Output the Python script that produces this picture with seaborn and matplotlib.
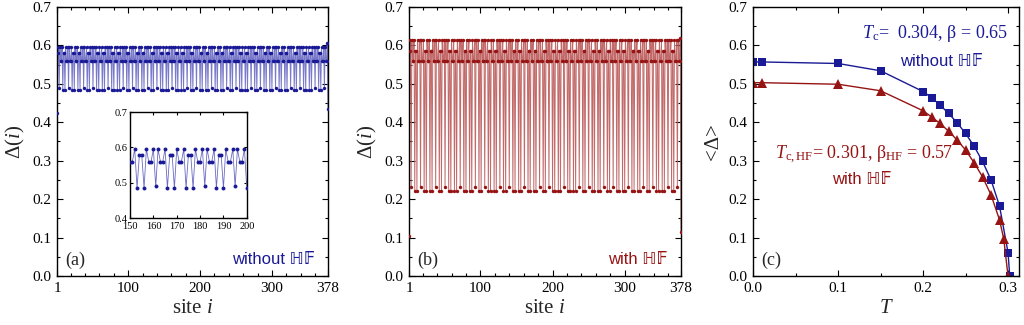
import numpy as np
import pandas as pd
import matplotlib
matplotlib.use("Agg")
import matplotlib.pyplot as plt
import seaborn as sns
from matplotlib.ticker import MultipleLocator, FixedLocator

# ---------------- data ----------------
# block sequence of the quasiperiodic chain (A = 8 sites, B = 5 sites)
block_codes = ("B"
               "ABAABABAABAABABAABABAABAABABAABAAB"
               "ABAABABAABAABABAABABA")

# panel (a): without HF  (levels per block)
a_block_A = [0.595, 0.485, 0.58, 0.58, 0.485, 0.595, 0.56, 0.56]
a_block_B = [0.595, 0.49, 0.595, 0.56, 0.56]
a_head = [0.425, 0.58]
a_tail = [0.605, 0.435]

# panel (b): with HF
b_block_A = [0.615, 0.22, 0.585, 0.585, 0.22, 0.615, 0.56, 0.56]
b_block_B = [0.615, 0.232, 0.615, 0.56, 0.56]
b_head = [0.105, 0.585]
b_tail = [0.62, 0.115]

n_sites = 378

# panel (c): order parameter vs temperature
T_noHF = [0.0, 0.01, 0.10, 0.15, 0.20, 0.21, 0.22, 0.23, 0.24, 0.25, 0.26, 0.27, 0.28, 0.29, 0.30, 0.302]
D_noHF = [0.557, 0.557, 0.553, 0.534, 0.480, 0.464, 0.445, 0.423, 0.399, 0.371, 0.338, 0.298, 0.250, 0.182, 0.061, 0.0]
T_HF = [0.0, 0.01, 0.10, 0.15, 0.20, 0.21, 0.22, 0.23, 0.24, 0.25, 0.26, 0.27, 0.28, 0.29, 0.295, 0.300]
D_HF = [0.503, 0.503, 0.499, 0.482, 0.430, 0.414, 0.397, 0.377, 0.354, 0.328, 0.295, 0.258, 0.211, 0.146, 0.096, 0.0]


def build_chain(head, blk_A, blk_B, tail):
    body = []
    for c in block_codes:
        body.extend(blk_A if c == "A" else blk_B)
    n_body = n_sites - len(head) - len(tail)
    return np.array(head + body[:n_body] + tail)


sites = np.arange(1, n_sites + 1)
df_a = pd.DataFrame({"site": sites, "D": build_chain(a_head, a_block_A, a_block_B, a_tail)})
df_b = pd.DataFrame({"site": sites, "D": build_chain(b_head, b_block_A, b_block_B, b_tail)})
df_c1 = pd.DataFrame({"T": T_noHF, "D": D_noHF})
df_c2 = pd.DataFrame({"T": T_HF, "D": D_HF})

# ---------------- style ----------------
sns.set_theme(style="ticks")
plt.rcParams["font.family"] = ["Liberation Serif", "DejaVu Serif"]
plt.rcParams["mathtext.fontset"] = "custom"
plt.rcParams["mathtext.rm"] = "Liberation Serif"
plt.rcParams["mathtext.it"] = "Liberation Serif:italic"
plt.rcParams["axes.linewidth"] = 1.0
plt.rcParams["axes.edgecolor"] = "black"

BLUE = "#1a1a96"
BLUE_L = "#6a6ac4"
RED = "#961414"
RED_L = "#bc5a5a"
SANS = ["Liberation Sans", "DejaVu Sans"]

fig = plt.figure(figsize=(10.24, 3.25), dpi=100)
ax_a = fig.add_axes([0.0557, 0.1508, 0.2646, 0.8277])
ax_b = fig.add_axes([0.3994, 0.1508, 0.2656, 0.8277])
ax_c = fig.add_axes([0.7354, 0.1508, 0.2598, 0.8277])
ax_in = fig.add_axes([0.127, 0.329, 0.114, 0.326])


def style_axes(ax, fs=11, major=4, minor=2.5):
    ax.tick_params(which="both", direction="in", top=True, right=True,
                   labelsize=fs, colors="black", width=0.8)
    ax.tick_params(which="major", length=major, pad=4)
    ax.tick_params(which="minor", length=minor)
    for s in ax.spines.values():
        s.set_color("black")
        s.set_linewidth(1.0)


# panel (a)
sns.lineplot(data=df_a, x="site", y="D", ax=ax_a, color=BLUE_L, lw=0.7, alpha=0.9, sort=False)
sns.scatterplot(data=df_a, x="site", y="D", ax=ax_a, color=BLUE, s=6, linewidth=0, zorder=3)
# panel (b)
sns.lineplot(data=df_b, x="site", y="D", ax=ax_b, color=RED_L, lw=0.7, alpha=0.9, sort=False)
sns.scatterplot(data=df_b, x="site", y="D", ax=ax_b, color=RED, s=6, linewidth=0, zorder=3)

for ax, lab, txt, col in [(ax_a, "(a)", "without \u210d\U0001d53d", BLUE),
                          (ax_b, "(b)", "with \u210d\U0001d53d", RED)]:
    ax.set_xlim(1, 378)
    ax.set_ylim(0, 0.7)
    ax.xaxis.set_major_locator(FixedLocator([1, 100, 200, 300, 378]))
    ax.xaxis.set_minor_locator(FixedLocator(np.arange(20, 378, 20)))
    ax.yaxis.set_major_locator(MultipleLocator(0.1))
    ax.yaxis.set_minor_locator(MultipleLocator(0.05))
    ax.yaxis.set_major_formatter(matplotlib.ticker.FormatStrFormatter("%.1f"))
    style_axes(ax)
    ax.set_xlabel("site $i$", fontsize=15, labelpad=3)
    ax.set_ylabel("\u0394($i$)", fontsize=15, labelpad=4)
    ax.text(0.03, 0.06, lab, transform=ax.transAxes, fontsize=13, va="center", ha="left")
    ax.text(0.95, 0.06, txt, transform=ax.transAxes, fontsize=12, va="center", ha="right",
            color=col, family=SANS)

# inset
sns.lineplot(data=df_a, x="site", y="D", ax=ax_in, color=BLUE_L, lw=0.6, sort=False)
sns.scatterplot(data=df_a, x="site", y="D", ax=ax_in, color=BLUE, s=8, linewidth=0, zorder=3)
ax_in.set_xlim(150, 200)
ax_in.set_ylim(0.4, 0.7)
ax_in.xaxis.set_major_locator(MultipleLocator(10))
ax_in.yaxis.set_major_locator(MultipleLocator(0.1))
ax_in.yaxis.set_major_formatter(matplotlib.ticker.FormatStrFormatter("%.1f"))
style_axes(ax_in, fs=7.5, major=2.5, minor=1.5)
ax_in.tick_params(axis="x", pad=3)
ax_in.tick_params(axis="y", pad=2)
ax_in.set_xlabel("")
ax_in.set_ylabel("")
ax_in.set_facecolor("white")

# panel (c)
sns.lineplot(data=df_c1, x="T", y="D", ax=ax_c, color=BLUE, lw=1.0, marker="s",
             markersize=5.5, markeredgewidth=0, sort=False)
sns.lineplot(data=df_c2, x="T", y="D", ax=ax_c, color=RED, lw=1.0, marker="^",
             markersize=6.5, markeredgewidth=0, sort=False)
ax_c.set_xlim(0, 0.313)
ax_c.set_ylim(0, 0.7)
ax_c.xaxis.set_major_locator(MultipleLocator(0.1))
ax_c.xaxis.set_minor_locator(MultipleLocator(0.05))
ax_c.yaxis.set_major_locator(MultipleLocator(0.1))
ax_c.yaxis.set_minor_locator(MultipleLocator(0.05))
ax_c.xaxis.set_major_formatter(matplotlib.ticker.FormatStrFormatter("%.1f"))
ax_c.yaxis.set_major_formatter(matplotlib.ticker.FormatStrFormatter("%.1f"))
style_axes(ax_c)
ax_c.set_xlabel("$T$", fontsize=15, labelpad=3)
ax_c.set_ylabel("<\u0394>", fontsize=15, labelpad=4)
ax_c.text(0.214, 0.632, "$T_{\\rm c}$=  0.304, \u03b2 = 0.65", fontsize=13, color=BLUE,
          ha="center", va="center")
ax_c.text(0.222, 0.557, "without \u210d\U0001d53d", fontsize=12, color=BLUE,
          ha="center", va="center", family=SANS)
ax_c.text(0.13, 0.315, "$T_{\\rm c,HF}$= 0.301, \u03b2$_{\\rm HF}$ = 0.57", fontsize=13, color=RED,
          ha="center", va="center")
ax_c.text(0.128, 0.25, "with \u210d\U0001d53d", fontsize=12, color=RED,
          ha="center", va="center", family=SANS)
ax_c.text(0.03, 0.06, "(c)", transform=ax_c.transAxes, fontsize=13, va="center", ha="left")

fig.savefig("out.png", dpi=100)
